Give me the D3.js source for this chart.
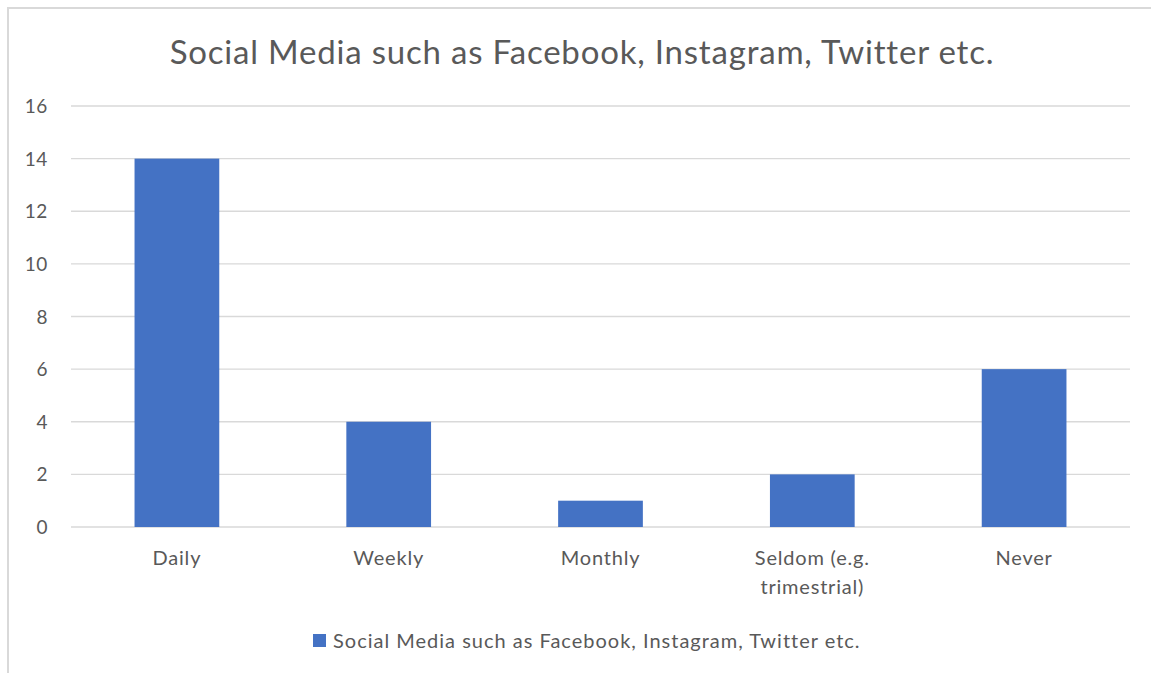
<!DOCTYPE html>
<html>
<head>
<meta charset="utf-8">
<script src="https://cdn.jsdelivr.net/npm/d3@7"></script>
<style>
  html, body { margin: 0; padding: 0; background: #fff; }
  text { font-family: Lato, "Open Sans", sans-serif; fill: #595959; }
</style>
</head>
<body>
<div id="chart"></div>
<script>
// 資料
var categories = ['Daily', 'Weekly', 'Monthly', 'Seldom (e.g. trimestrial)', 'Never'];
var values = [14, 4, 1, 2, 6];
var yTicks = [0, 2, 4, 6, 8, 10, 12, 14, 16];
var titleText = 'Social Media such as Facebook, Instagram, Twitter etc.';
var seriesName = 'Social Media such as Facebook, Instagram, Twitter etc.';

// 畫布相關
const width = 1151, height = 673;
const margin = {top: 106, right: 21, bottom: 146, left: 71};
const barColor = '#4472C4';

var svg = d3.select('#chart').append('svg')
  .attr('width', width)
  .attr('height', height);

// 外框 (只有左、上)
svg.append('path')
  .attr('d', `M8,${height} L8,8 L${width},8`)
  .attr('fill', 'none')
  .attr('stroke', '#d9d9d9')
  .attr('stroke-width', 2);

var x = d3.scaleBand()
  .domain(categories)
  .range([margin.left, width - margin.right])
  .paddingInner(0.6)
  .paddingOuter(0.3);

var y = d3.scaleLinear()
  .domain([0, 16])
  .range([height - margin.bottom, margin.top]);

// 格線
svg.append('g')
  .selectAll('line')
  .data(yTicks)
  .enter()
  .append('line')
  .attr('x1', margin.left)
  .attr('x2', width - margin.right)
  .attr('y1', d => y(d))
  .attr('y2', d => y(d))
  .attr('stroke', '#d9d9d9')
  .attr('stroke-width', 1.3);

// Y軸文字
svg.append('g')
  .selectAll('text')
  .data(yTicks)
  .enter()
  .append('text')
  .attr('x', 48)
  .attr('y', d => y(d) + 7)
  .style('text-anchor', 'end')
  .style('font-size', '19px')
  .style('letter-spacing', '0.6px')
  .text(d => d);

// bar
svg.selectAll('rect.bar')
  .data(values)
  .enter()
  .append('rect')
  .attr('class', 'bar')
  .attr('x', (d, i) => x(categories[i]))
  .attr('width', x.bandwidth())
  .attr('y', d => y(d))
  .attr('height', d => y(0) - y(d))
  .style('fill', barColor);

// 類別文字 (長的拆兩行)
var catLines = {'Seldom (e.g. trimestrial)': ['Seldom (e.g.', 'trimestrial)']};
var catG = svg.append('g');
categories.forEach(function(c) {
  var lines = catLines[c] || [c];
  var t = catG.append('text')
    .attr('x', x(c) + x.bandwidth() / 2)
    .attr('y', y(0) + 38)
    .style('text-anchor', 'middle')
    .style('font-size', '20px')
    .style('letter-spacing', '0.8px');
  lines.forEach(function(l, i) {
    t.append('tspan')
      .attr('x', x(c) + x.bandwidth() / 2)
      .attr('dy', i == 0 ? 0 : 29)
      .text(l);
  });
});

// 標題
svg.append('text')
  .attr('x', 582)
  .attr('y', 64)
  .style('text-anchor', 'middle')
  .style('font-size', '33px')
  .style('letter-spacing', '0.8px')
  .text(titleText);

// 圖例
var legend = svg.append('g');
legend.append('rect')
  .attr('x', 313)
  .attr('y', 634)
  .attr('width', 13)
  .attr('height', 13)
  .style('fill', barColor);
legend.append('text')
  .attr('x', 333)
  .attr('y', 648)
  .style('font-size', '20px')
  .style('letter-spacing', '1px')
  .text(seriesName);
</script>
</body>
</html>
